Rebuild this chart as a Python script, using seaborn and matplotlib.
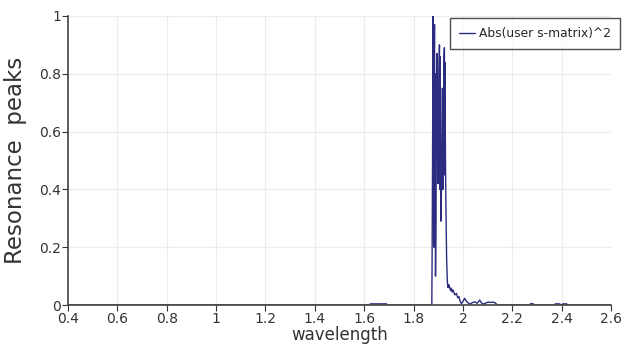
import numpy as np
import pandas as pd
import matplotlib
matplotlib.use('Agg')
import matplotlib.pyplot as plt
import seaborn as sns
from matplotlib.ticker import FormatStrFormatter

# wavelength / |S|^2 samples
wavelength = [0.40, 1.000, 1.600, 1.620, 1.625, 1.690, 1.695, 1.860, 1.874,
              1.875, 1.877, 1.879, 1.881, 1.882, 1.883, 1.884, 1.885, 1.886,
              1.887, 1.889, 1.891, 1.893, 1.895, 1.897, 1.899, 1.901, 1.903,
              1.905, 1.906, 1.907, 1.909, 1.911, 1.913, 1.915, 1.917, 1.919,
              1.921, 1.923, 1.925, 1.926, 1.927, 1.929, 1.931, 1.934, 1.937,
              1.940, 1.943, 1.946, 1.950, 1.953, 1.957, 1.960, 1.967, 1.974,
              1.979, 1.984, 1.989, 1.994, 2.000, 2.007, 2.015, 2.028, 2.038,
              2.048, 2.058, 2.068, 2.075, 2.081, 2.090, 2.102, 2.112, 2.122,
              2.130, 2.136, 2.141, 2.270, 2.275, 2.285, 2.290, 2.370, 2.375,
              2.390, 2.400, 2.405, 2.420, 2.425, 2.60]
abs_s2 = [0.0, 0.0, 0.0, 0.0, 0.004, 0.004, 0.0, 0.0, 0.0,
          0.13, 0.50, 1.00, 0.30, 0.87, 0.20, 0.87, 0.97, 0.45,
          0.80, 0.10, 0.30, 0.70, 0.87, 0.60, 0.42, 0.55, 0.80,
          0.90, 0.40, 0.86, 0.60, 0.29, 0.40, 0.55, 0.75, 0.40,
          0.60, 0.85, 0.89, 0.45, 0.84, 0.55, 0.35, 0.16, 0.08,
          0.06, 0.07, 0.063, 0.05, 0.058, 0.045, 0.052, 0.035, 0.04,
          0.025, 0.029, 0.012, 0.005, 0.012, 0.023, 0.012, 0.003, 0.008,
          0.011, 0.006, 0.017, 0.008, 0.003, 0.006, 0.010, 0.009, 0.010,
          0.008, 0.003, 0.0, 0.0, 0.005, 0.004, 0.0, 0.0, 0.004,
          0.004, 0.0, 0.004, 0.004, 0.0, 0.0]

df = pd.DataFrame({'wavelength': wavelength, 'value': abs_s2})

sns.set_style('whitegrid')
plt.rcParams['font.family'] = ['Liberation Sans Narrow', 'DejaVu Sans']

fig = plt.figure(figsize=(6.25, 3.47), dpi=100)
ax = fig.add_axes([0.1088, 0.121, 0.8688, 0.833])
sns.lineplot(data=df, x='wavelength', y='value', sort=False, color='#2b2b80',
             linewidth=1.0, label='Abs(user s-matrix)^2', ax=ax)

ax.set_xlim(0.4, 2.6)
ax.set_ylim(0, 1)
ax.set_xticks(np.arange(0.4, 2.61, 0.2))
ax.set_yticks(np.arange(0, 1.01, 0.2))
ax.xaxis.set_major_formatter(FormatStrFormatter('%g'))
ax.yaxis.set_major_formatter(FormatStrFormatter('%g'))
ax.tick_params(axis='both', labelsize=10, colors='#333333', length=4,
               width=0.8, direction='out', left=True, bottom=True, pad=1)
ax.grid(color='#ececec', linewidth=0.8)
for s in ['top', 'right']:
    ax.spines[s].set_visible(False)
for s in ['left', 'bottom']:
    ax.spines[s].set_color('#444444')
    ax.spines[s].set_linewidth(1.2)

ax.set_xlabel('wavelength', fontsize=12, color='#333333', labelpad=0)
ax.set_ylabel('Resonance  peaks', fontsize=16.5, color='#333333', labelpad=9,
              family=['DejaVu Sans'])

leg = ax.legend(loc='upper right', bbox_to_anchor=(0.992, 0.948),
                bbox_transform=fig.transFigure, fontsize=8.8, frameon=True,
                fancybox=False, handlelength=1.3, handletextpad=0.3,
                borderpad=0.75, borderaxespad=0)
leg.get_frame().set_edgecolor('#222222')
leg.get_frame().set_linewidth(1.0)

fig.savefig('out.png', dpi=100)
